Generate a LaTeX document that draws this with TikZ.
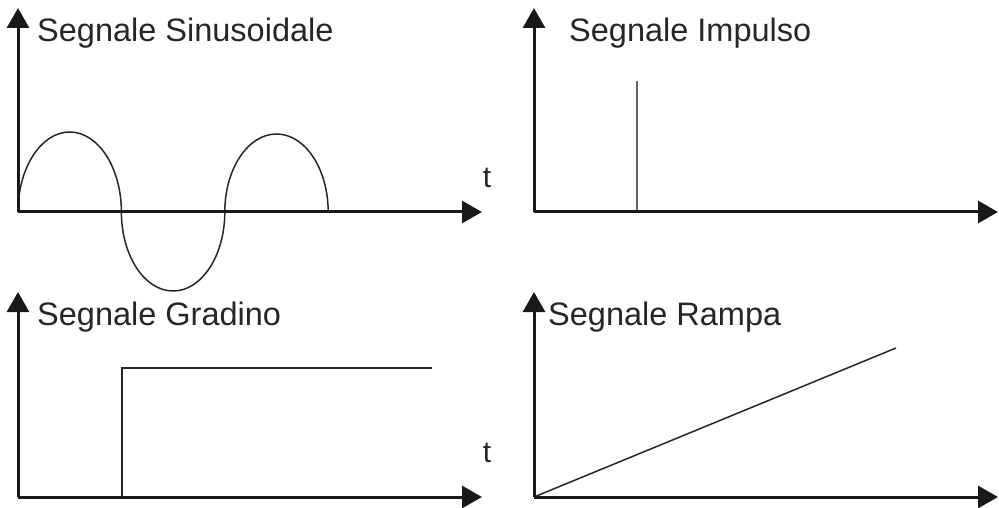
\documentclass[tikz,border=0pt]{standalone}
\usepackage{fontspec}
\setmainfont{Liberation Sans}
\usepackage{tikz}
\usetikzlibrary{arrows.meta}

\begin{document}
\begin{tikzpicture}[x=1pt, y=1pt,
  axis/.style={black!90, line width=3pt, -{Triangle[length=20pt, width=22pt]}},
  signal/.style={black!85, line width=1.5pt},
  title/.style={font=\fontsize{32.5}{32.5}\selectfont, text=black!85, anchor=base west, inner sep=0pt},
  tlabel/.style={font=\fontsize{30}{30}\selectfont, text=black!85, inner sep=0pt}]
  \useasboundingbox (0,0) rectangle (999,507);
  \coordinate (o1) at (18,295);
  \coordinate (y1) at (18,499);
  \coordinate (x1) at (482,295);
  \coordinate (o2) at (534,295);
  \coordinate (y2) at (534,499);
  \coordinate (x2) at (998,295);
  \coordinate (o3) at (18,10);
  \coordinate (y3) at (18,215);
  \coordinate (x3) at (482,10);
  \coordinate (o4) at (534,10);
  \coordinate (y4) at (534,215);
  \coordinate (x4) at (998,10);
  \draw[signal] (o1) arc[start angle=180, end angle=0, x radius=51.7, y radius=80]
    arc[start angle=180, end angle=360, x radius=51.7, y radius=79]
    arc[start angle=180, end angle=0, x radius=51.7, y radius=78];
  \coordinate (imp0) at (637,295);
  \coordinate (imp1) at (637,426);
  \draw[signal, black!60] (imp0) -- (imp1);
  \coordinate (stp0) at (122,10);
  \coordinate (stp1) at (122,139);
  \coordinate (stp2) at (432,139);
  \draw[signal] (stp0) -- (stp1) -- (stp2);
  \coordinate (rmp1) at (896,159);
  \draw[signal] (o4) -- (rmp1);
  \draw[axis] (o1) -- (y1);
  \draw[axis] (o1) -- (x1);
  \draw[axis] (o2) -- (y2);
  \draw[axis] (o2) -- (x2);
  \draw[axis] (o3) -- (y3);
  \draw[axis] (o3) -- (x3);
  \draw[axis] (o4) -- (y4);
  \draw[axis] (o4) -- (x4);
  \node[title] (sin) at (37,465) {Segnale Sinusoidale};
  \node[title] (imp) at (569,465) {Segnale Impulso};
  \node[title] (grad) at (37,182) {Segnale Gradino};
  \node[title] (ramp) at (548,182) {Segnale Rampa};
  \node[tlabel] (t1) at (487,329) {t};
  \node[tlabel] (t3) at (487,54) {t};
\end{tikzpicture}
\end{document}
